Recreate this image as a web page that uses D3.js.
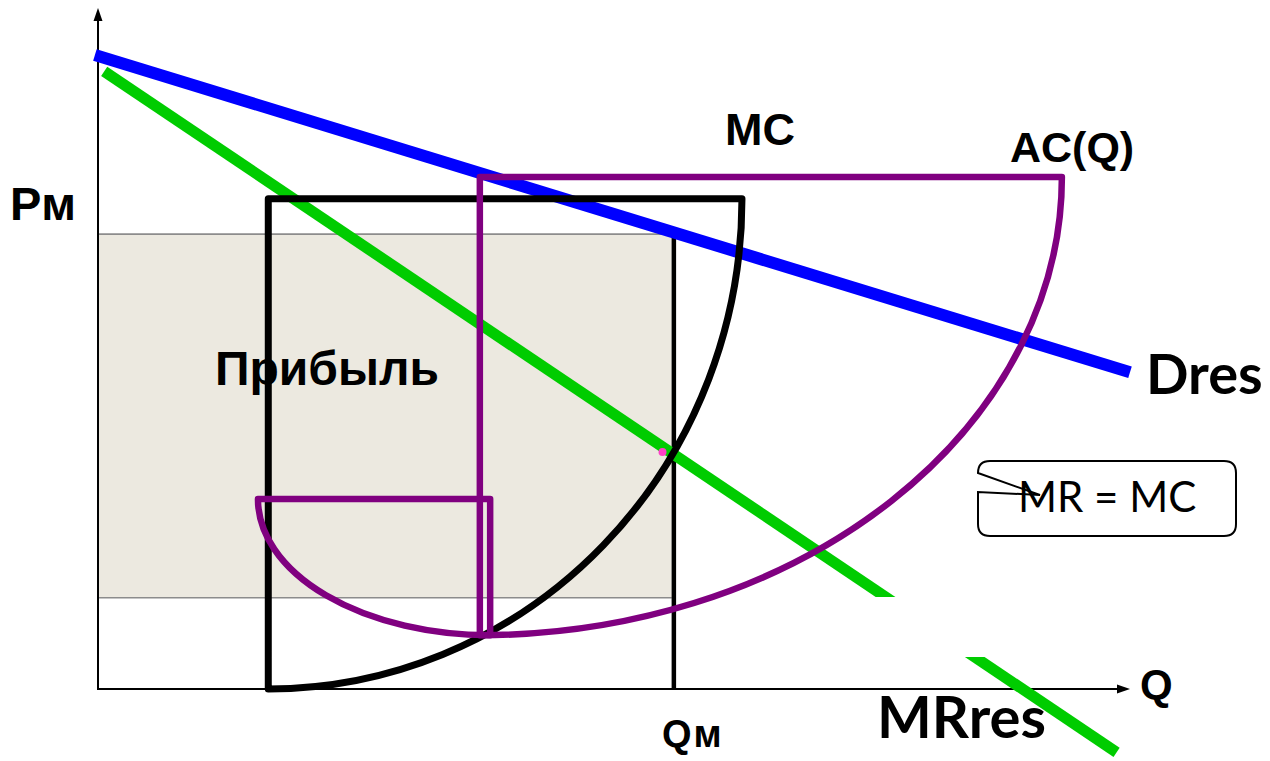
<!DOCTYPE html>
<html>
<head>
    <meta charset="utf-8">
    <script src="https://d3js.org/d3.v7.min.js"></script>
    <style>
        body { margin: 0; background: #fff; }
    </style>
</head>
<body>
    <div id="chart"></div>

    <script>
        // ---- data (Q, P in chart units) ----
        const demandLine = [[-0.3, 93.1], [100, 46.5]];      // Dres
        const mrLine = [[0.6, 90.7], [98.7, -9.3]];           // MRres
        const mrHiddenBand = [4.7, 13.5];                     // P range where MRres is not shown
        const profitQ = [0, 55.6];
        const profitP = [13.4, 66.8];
        const qmValue = 55.8;
        const qmTop = 67.7;
        const mcShape = [16.5, 62.4, 0, 72.0];                // qLeft, qRight, pBottom, pTop
        const acUpper = [37.0, 93.4, 7.9, 75.2];              // qCorner, qRight, pBottom, pTop
        const acLower = [15.5, 38.0, 7.9, 27.9];              // qLeft, qCorner, pBottom, pTop
        const optimum = [54.7, 34.8];
        const labelTexts = ["Pм", "MC", "AC(Q)", "Прибыль", "Dres", "MRres", "Qм", "Q", "MR = MC"];

        const width = 1270, height = 761;

        const svg = d3.select("#chart")
            .append("svg")
            .attr("width", width)
            .attr("height", height);

        const x = d3.scaleLinear().domain([0, 100]).range([98, 1130]);
        const y = d3.scaleLinear().domain([0, 100]).range([689, 8]);

        const line = d3.line().x(d => x(d[0])).y(d => y(d[1]));

        // clip for the broken MRres line
        const defs = svg.append("defs");
        const clip = defs.append("clipPath").attr("id", "mrclip");
        clip.append("rect").attr("x", 0).attr("y", 0).attr("width", width).attr("height", y(mrHiddenBand[1]));
        clip.append("rect").attr("x", 0).attr("y", y(mrHiddenBand[0])).attr("width", width).attr("height", height - y(mrHiddenBand[0]));

        // profit area
        svg.append("rect")
            .attr("x", x(profitQ[0]))
            .attr("y", y(profitP[1]))
            .attr("width", x(profitQ[1]) - x(profitQ[0]))
            .attr("height", y(profitP[0]) - y(profitP[1]))
            .attr("fill", "#ECE9E0");

        profitP.forEach(p => {
            svg.append("line")
                .attr("x1", x(profitQ[0])).attr("x2", x(profitQ[1]))
                .attr("y1", y(p)).attr("y2", y(p))
                .attr("stroke", "#8c8c8c").attr("stroke-width", 1.6);
        });

        // Qm line
        svg.append("line")
            .attr("x1", x(qmValue)).attr("x2", x(qmValue))
            .attr("y1", y(0)).attr("y2", y(qmTop))
            .attr("stroke", "#000").attr("stroke-width", 4.5);

        // axes with arrows
        svg.append("line")
            .attr("x1", x(0)).attr("y1", y(0) + 1)
            .attr("x2", x(0)).attr("y2", y(100) + 8)
            .attr("stroke", "#000").attr("stroke-width", 2);
        svg.append("path")
            .attr("d", `M${x(0)},${y(100)} L${x(0) - 4.5},${y(100) + 13} L${x(0) + 4.5},${y(100) + 13} Z`)
            .attr("fill", "#000");
        svg.append("line")
            .attr("x1", x(0)).attr("y1", y(0))
            .attr("x2", x(100) - 8).attr("y2", y(0))
            .attr("stroke", "#000").attr("stroke-width", 2);
        svg.append("path")
            .attr("d", `M${x(100)},${y(0)} L${x(100) - 13},${y(0) - 4.5} L${x(100) - 13},${y(0) + 4.5} Z`)
            .attr("fill", "#000");

        // Прибыль label sits under the curves
        svg.append("text")
            .attr("x", 215).attr("y", 385)
            .attr("font-family", "Liberation Sans, Arial, sans-serif")
            .attr("font-weight", "bold").attr("font-size", 48)
            .text(labelTexts[3]);

        // demand
        svg.append("path")
            .attr("d", line(demandLine))
            .attr("stroke", "#0000FF").attr("stroke-width", 12)
            .attr("fill", "none");

        // marginal revenue
        svg.append("path")
            .attr("d", line(mrLine))
            .attr("clip-path", "url(#mrclip)")
            .attr("stroke", "#00CC00").attr("stroke-width", 11)
            .attr("fill", "none");

        // MC: quarter ellipse
        const mcRx = x(mcShape[1]) - x(mcShape[0]);
        const mcRy = y(mcShape[2]) - y(mcShape[3]);
        svg.append("path")
            .attr("d", `M${x(mcShape[0])},${y(mcShape[2])} L${x(mcShape[0])},${y(mcShape[3])} L${x(mcShape[1])},${y(mcShape[3])} ` +
                `A${mcRx},${mcRy} 0 0 1 ${x(mcShape[0])},${y(mcShape[2])} Z`)
            .attr("stroke", "#000").attr("stroke-width", 7)
            .attr("stroke-linejoin", "round")
            .attr("fill", "none");

        // AC(Q): two quarter ellipses
        const acRx1 = x(acUpper[1]) - x(acUpper[0]);
        const acRy1 = y(acUpper[2]) - y(acUpper[3]);
        svg.append("path")
            .attr("d", `M${x(acUpper[0])},${y(acUpper[2])} L${x(acUpper[0])},${y(acUpper[3])} L${x(acUpper[1])},${y(acUpper[3])} ` +
                `A${acRx1},${acRy1} 0 0 1 ${x(acUpper[0])},${y(acUpper[2])} Z`)
            .attr("stroke", "#800080").attr("stroke-width", 6.5)
            .attr("stroke-linejoin", "round")
            .attr("fill", "none");

        const acRx2 = x(acLower[1]) - x(acLower[0]);
        const acRy2 = y(acLower[2]) - y(acLower[3]);
        svg.append("path")
            .attr("d", `M${x(acLower[1])},${y(acLower[2])} L${x(acLower[1])},${y(acLower[3])} L${x(acLower[0])},${y(acLower[3])} ` +
                `A${acRx2},${acRy2} 0 0 0 ${x(acLower[1])},${y(acLower[2])} Z`)
            .attr("stroke", "#800080").attr("stroke-width", 6.5)
            .attr("stroke-linejoin", "round")
            .attr("fill", "none");

        // MR = MC point
        svg.append("circle")
            .attr("cx", x(optimum[0])).attr("cy", y(optimum[1]))
            .attr("r", 4)
            .attr("fill", "#FF3FC8");

        // labels
        const bold = "Liberation Sans, Arial, sans-serif";
        const calib = "Lato, Open Sans, sans-serif";
        const labels = [
            {t: labelTexts[0], x: 10, y: 220, f: bold, s: 47, ls: 0},
            {t: labelTexts[1], x: 725, y: 145, f: bold, s: 45, ls: 0},
            {t: labelTexts[2], x: 1010, y: 162, f: bold, s: 43, ls: 0},
            {t: labelTexts[4], x: 1146, y: 394, f: calib, s: 56, ls: 0},
            {t: labelTexts[5], x: 877, y: 738, f: calib, s: 58, ls: 0},
            {t: labelTexts[6], x: 662, y: 747, f: bold, s: 38, ls: 2},
            {t: labelTexts[7], x: 1140, y: 699, f: bold, s: 42, ls: 0}
        ];
        svg.selectAll("text.lbl")
            .data(labels)
            .enter()
            .append("text")
            .attr("class", "lbl")
            .attr("x", d => d.x).attr("y", d => d.y)
            .attr("font-family", d => d.f)
            .attr("font-weight", "bold")
            .attr("font-size", d => d.s)
            .attr("letter-spacing", d => d.ls)
            .text(d => d.t);

        // callout "MR = MC"
        const bx0 = 978, bx1 = 1236, by0 = 461, by1 = 536, r = 12;
        const callout = d3.path();
        callout.moveTo(bx0, 492);
        callout.lineTo(bx0, by1 - r);
        callout.quadraticCurveTo(bx0, by1, bx0 + r, by1);
        callout.lineTo(bx1 - r, by1);
        callout.quadraticCurveTo(bx1, by1, bx1, by1 - r);
        callout.lineTo(bx1, by0 + r);
        callout.quadraticCurveTo(bx1, by0, bx1 - r, by0);
        callout.lineTo(bx0 + r, by0);
        callout.quadraticCurveTo(bx0, by0, bx0, by0 + r);
        callout.lineTo(bx0, 473);
        callout.lineTo(1040, 495);
        callout.closePath();
        svg.append("path")
            .attr("d", callout.toString())
            .attr("fill", "#fff")
            .attr("stroke", "#000").attr("stroke-width", 2);

        svg.append("text")
            .attr("x", 1018).attr("y", 512)
            .attr("font-family", calib)
            .attr("font-size", 42)
            .text(labelTexts[8]);
    </script>
</body>
</html>
